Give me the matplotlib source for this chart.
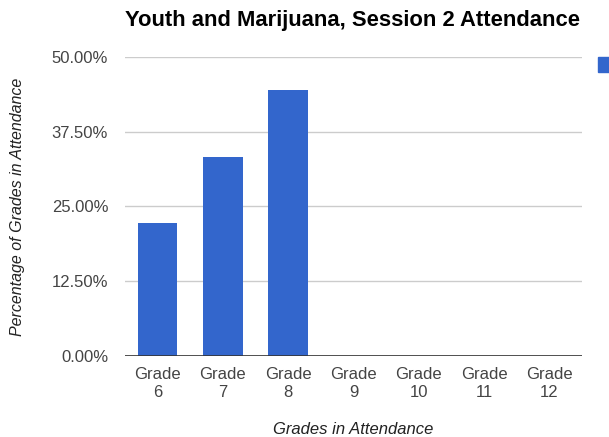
#! /usr/bin/env python3
""" Bar chart of session 2 attendance by grade. """

import matplotlib
matplotlib.use('Agg')
import matplotlib.pyplot as plt
from matplotlib.patches import Rectangle
from matplotlib.ticker import FuncFormatter

grades = ['Grade\n6', 'Grade\n7', 'Grade\n8', 'Grade\n9', 'Grade\n10', 'Grade\n11', 'Grade\n12']
percent = [22.22, 33.33, 44.44, 0, 0, 0, 0]
y_ticks = [0, 12.5, 25, 37.5, 50]

plt.rcParams['font.family'] = ['Liberation Sans', 'DejaVu Sans']

if __name__ == "__main__":
    fig = plt.figure(figsize=(6.09, 4.37), dpi=100)
    ax = fig.add_axes([0.205, 0.185, 0.751, 0.685])

    x = range(len(grades))
    ax.bar(x, percent, width=0.61, color='#3366cc', zorder=3)
    ax.set_xlim(-0.5, len(grades) - 0.5)
    ax.set_ylim(0, 50)
    ax.set_yticks(y_ticks)
    ax.yaxis.set_major_formatter(FuncFormatter(lambda v, p: f'{v:.2f}%'))
    ax.set_xticks(list(x))
    ax.set_xticklabels(grades, linespacing=1.25)

    # Google-chart look: light grid, dark baseline, no frame
    ax.grid(axis='y', color='#cccccc', linewidth=1, zorder=0)
    for s in ax.spines.values():
        s.set_visible(False)
    ax.axhline(0, color='#333333', linewidth=1.2, zorder=4)
    ax.tick_params(axis='both', length=0, labelsize=12, labelcolor='#444444')
    ax.tick_params(axis='y', pad=12)
    ax.tick_params(axis='x', pad=8)

    ax.set_xlabel('Grades in Attendance', style='italic', fontsize=12,
                  color='#222222', labelpad=16)
    ax.set_ylabel('Percentage of Grades in Attendance', style='italic', fontsize=11.5,
                  color='#222222', labelpad=19)
    fig.text(0.578, 0.952, 'Youth and Marijuana, Session 2 Attendance',
             ha='center', va='center', fontsize=15.8, fontweight='bold', color='#000000')

    # Legend entry (cut off at right edge like the original)
    fig.patches.append(Rectangle((598 / 609, 1 - 72 / 437), 12 / 609, 15 / 437,
                                 transform=fig.transFigure, color='#3366cc'))

    fig.savefig('out.png', dpi=100)
